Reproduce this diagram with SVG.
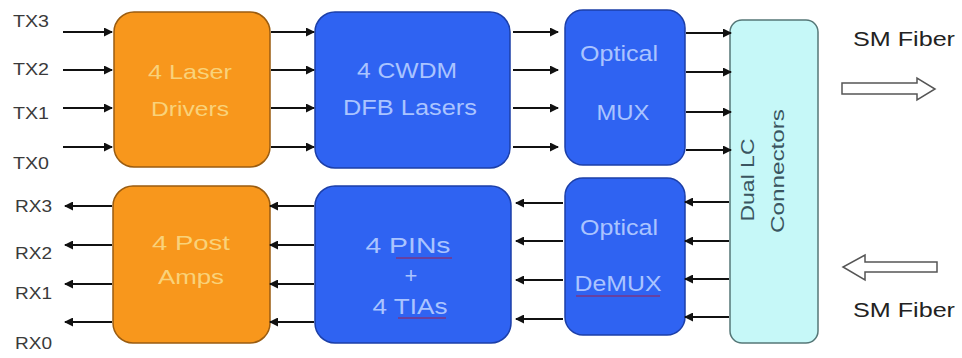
<svg xmlns="http://www.w3.org/2000/svg" width="962" height="358" viewBox="0 0 962 358">
<defs>
<marker id="ah" markerWidth="9" markerHeight="9" refX="8" refY="4.5" orient="auto" markerUnits="userSpaceOnUse">
<path d="M0,0 L9,4.5 L0,9 z" fill="#111"/>
</marker>
</defs>
<style>
.lbl{font-family:"Liberation Sans",Arial,sans-serif;font-size:16px;fill:#3a3a3a}
.orange{fill:#f8971c;stroke:#9a5c10;stroke-width:1.5}
.blue{fill:#2f63f2;stroke:#1c3fa8;stroke-width:1.5}
.lc{fill:#c6f8f8;stroke:#557777;stroke-width:1.5}
.ot{font-family:"Liberation Sans",Arial,sans-serif;font-size:21px;fill:#f9d27a;text-anchor:middle}
.bt{font-family:"Liberation Sans",Arial,sans-serif;font-size:22px;fill:#aac4ff;text-anchor:middle}
.ct{font-family:"Liberation Sans",Arial,sans-serif;font-size:19px;fill:#3a5560;text-anchor:middle}
.sm{font-family:"Liberation Sans",Arial,sans-serif;font-size:21px;fill:#222}
.ar{stroke:#111;stroke-width:2;fill:none;marker-end:url(#ah)}
.hol{fill:#fff;stroke:#555;stroke-width:1.5}
.sq{stroke:#a02050;stroke-width:1;fill:none}
</style>
<rect width="962" height="358" fill="#fff"/>
<g id="labels">
<text class="lbl" x="13" y="27" textLength="36" lengthAdjust="spacingAndGlyphs">TX3</text>
<text class="lbl" x="13" y="75" textLength="36" lengthAdjust="spacingAndGlyphs">TX2</text>
<text class="lbl" x="13" y="119" textLength="36" lengthAdjust="spacingAndGlyphs">TX1</text>
<text class="lbl" x="13" y="169" textLength="36" lengthAdjust="spacingAndGlyphs">TX0</text>
<text class="lbl" x="15" y="212" textLength="37" lengthAdjust="spacingAndGlyphs">RX3</text>
<text class="lbl" x="15" y="259" textLength="37" lengthAdjust="spacingAndGlyphs">RX2</text>
<text class="lbl" x="15" y="299" textLength="37" lengthAdjust="spacingAndGlyphs">RX1</text>
<text class="lbl" x="15" y="349" textLength="37" lengthAdjust="spacingAndGlyphs">RX0</text>
</g>
<g id="laser-drivers">
<rect class="orange" x="114" y="12" width="156" height="155" rx="20"/>
<text class="ot" x="190" y="79" textLength="84" lengthAdjust="spacingAndGlyphs">4 Laser</text>
<text class="ot" x="190" y="116" textLength="78" lengthAdjust="spacingAndGlyphs">Drivers</text>
</g>
<g id="post-amps">
<rect class="orange" x="113" y="186" width="157" height="157" rx="20"/>
<text class="ot" x="191" y="250" textLength="78" lengthAdjust="spacingAndGlyphs">4 Post</text>
<text class="ot" x="191" y="284" textLength="66" lengthAdjust="spacingAndGlyphs">Amps</text>
</g>
<g id="dfb-lasers">
<rect class="blue" x="315" y="12" width="195" height="156" rx="20"/>
<text class="bt" x="407" y="78" textLength="100" lengthAdjust="spacingAndGlyphs">4 CWDM</text>
<text class="bt" x="410" y="115" textLength="134" lengthAdjust="spacingAndGlyphs">DFB Lasers</text>
</g>
<g id="pins-tias">
<rect class="blue" x="315" y="186" width="196" height="157" rx="20"/>
<text class="bt" x="408" y="253" textLength="85" lengthAdjust="spacingAndGlyphs">4  PINs</text>
<text class="bt" x="411" y="283">+</text>
<text class="bt" x="410" y="314" textLength="75" lengthAdjust="spacingAndGlyphs">4 TIAs</text>
<path class="sq" d="M396,258 L452,258"/>
<path class="sq" d="M398,318 L446,318"/>
</g>
<g id="optical-mux">
<rect class="blue" x="565" y="10" width="120" height="155" rx="18"/>
<text class="bt" x="619" y="61" textLength="78" lengthAdjust="spacingAndGlyphs">Optical</text>
<text class="bt" x="623" y="120" textLength="53" lengthAdjust="spacingAndGlyphs">MUX</text>
</g>
<g id="optical-demux">
<rect class="blue" x="565" y="178" width="120" height="157" rx="18"/>
<text class="bt" x="619" y="235" textLength="78" lengthAdjust="spacingAndGlyphs">Optical</text>
<text class="bt" x="618" y="291" textLength="87" lengthAdjust="spacingAndGlyphs">DeMUX</text>
<path class="sq" d="M576,296 L660,296"/>
</g>
<g id="dual-lc">
<rect class="lc" x="730" y="20" width="88" height="323" rx="12"/>
<text class="ct" transform="translate(754,180) rotate(-90)" textLength="83" lengthAdjust="spacingAndGlyphs">Dual LC</text>
<text class="ct" transform="translate(784,171) rotate(-90)" textLength="124" lengthAdjust="spacingAndGlyphs">Connectors</text>
</g>
<g id="fiber-out">
<text class="sm" x="853" y="46" textLength="102" lengthAdjust="spacingAndGlyphs">SM Fiber</text>
<path class="hol" d="M842,83 L917,83 L917,78 L935,89 L917,100 L917,94 L842,94 z"/>
</g>
<g id="fiber-in">
<path class="hol" d="M937,262 L865,262 L865,255 L843,267 L865,280 L865,272 L937,272 z"/>
<text class="sm" x="853" y="317" textLength="102" lengthAdjust="spacingAndGlyphs">SM Fiber</text>
</g>
<g id="connectors">
<path class="ar" d="M63,32 H112"/>
<path class="ar" d="M63,70 H112"/>
<path class="ar" d="M63,108 H112"/>
<path class="ar" d="M63,147 H112"/>
<path class="ar" d="M271,32 H314"/>
<path class="ar" d="M271,70 H314"/>
<path class="ar" d="M271,108 H314"/>
<path class="ar" d="M271,147 H314"/>
<path class="ar" d="M513,32 H558"/>
<path class="ar" d="M513,70 H558"/>
<path class="ar" d="M513,108 H558"/>
<path class="ar" d="M513,147 H558"/>
<path class="ar" d="M686,33 H731"/>
<path class="ar" d="M686,72 H731"/>
<path class="ar" d="M686,112 H731"/>
<path class="ar" d="M686,150 H731"/>
<path class="ar" d="M729,202 H685"/>
<path class="ar" d="M729,241 H685"/>
<path class="ar" d="M729,279 H685"/>
<path class="ar" d="M729,317 H685"/>
<path class="ar" d="M563,203 H516"/>
<path class="ar" d="M563,241 H516"/>
<path class="ar" d="M563,280 H516"/>
<path class="ar" d="M563,319 H516"/>
<path class="ar" d="M314,206 H270"/>
<path class="ar" d="M314,245 H270"/>
<path class="ar" d="M314,284 H270"/>
<path class="ar" d="M314,322 H270"/>
<path class="ar" d="M112,206 H65"/>
<path class="ar" d="M112,245 H65"/>
<path class="ar" d="M112,284 H65"/>
<path class="ar" d="M112,322 H65"/>
</g>
</svg>
